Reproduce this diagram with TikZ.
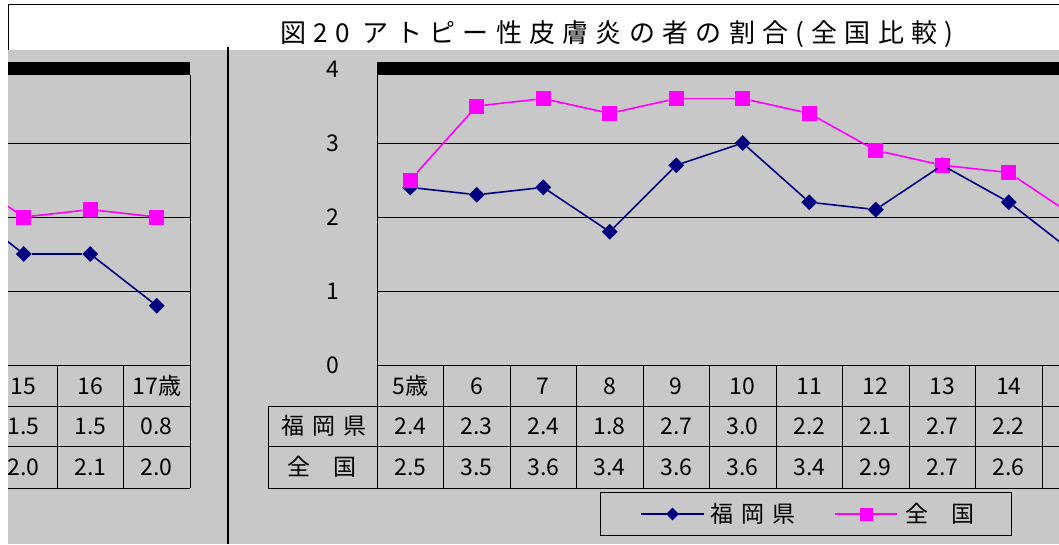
\documentclass[tikz,border=0pt]{standalone}
\usepackage{fontspec}
\setmainfont{Noto Sans CJK JP}
\newfontfamily\widefont[LetterSpace=36]{Noto Sans CJK JP}
\newfontfamily\titlefont[LetterSpace=28]{Noto Sans CJK JP}
\usetikzlibrary{positioning,shapes.geometric}
\definecolor{chartgray}{RGB}{200,200,200}
\definecolor{fkblue}{RGB}{0,0,128}
\definecolor{zkpink}{RGB}{255,0,255}
\begin{document}
\begin{tikzpicture}[x=1pt,y=-1pt,
  txt/.style={font=\fontsize{23}{24}\selectfont,inner sep=0pt},
  fkmark/.style={diamond,fill=fkblue,inner sep=0pt,minimum size=16pt},
  zkmark/.style={rectangle,fill=zkpink,inner sep=0pt,minimum size=15pt},
  fkline/.style={fkblue,line width=1.6pt},
  zkline/.style={zkpink,line width=1.6pt},
  rule/.style={black,line width=0.9pt}]

  \useasboundingbox (0,0) rectangle (1059,544);
  % background and frame
  \fill[white] (0,0) rectangle (1059,544);
  \fill[chartgray] (8,50) rectangle (1059,544);
  \draw[rule] (8,50) -- (8,4) -- (1059,4);
  \fill (8,62) rectangle (190,75);
  \fill (377,62) rectangle (1059,75);
  \draw[line width=2.5pt] (228,47) -- (228,544);

  \node[font=\fontsize{26}{28}\titlefont,inner sep=0pt] (title) at (617,34)
    {図20 アトピー性皮膚炎の者の割合(全国比較)};

  % y axis
  \foreach \v in {0,...,4}
    \node[txt] (ytick\v) at (333,365-74*\v) {\v};
  \foreach \v in {1,2,3} {
    \draw[rule] (8,365-74*\v) -- (190,365-74*\v);
    \draw[rule] (377,365-74*\v) -- (1059,365-74*\v);
  }

  % data table
  \draw[rule] (377,75) -- (377,488);
  \draw[rule] (190,75) -- (190,488);
  \draw[rule] (8,365) -- (190,365) (377,365) -- (1059,365);
  \foreach \y in {406,446,488}
    \draw[rule] (8,\y) -- (190,\y) (268,\y) -- (1059,\y);
  \draw[rule] (268,406) -- (268,488);
  \foreach \x in {57,123.5}
    \draw[rule] (\x,365) -- (\x,488);
  \foreach \k in {1,...,10}
    \draw[rule] (377+66.5*\k,365) -- (377+66.5*\k,488);

  \node[txt,font=\fontsize{23}{24}\widefont] (fkhead) at (324,426) {福岡県};
  \node[txt] (zkhead) at (322,467) {全　国};
  \foreach \a/\f/\z [count=\k from 0] in {5歳/2.4/2.5,6/2.3/3.5,7/2.4/3.6,
      8/1.8/3.4,9/2.7/3.6,10/3.0/3.6,11/2.2/3.4,12/2.1/2.9,13/2.7/2.7,14/2.2/2.6} {
    \node[txt] (hd\k) at (410.25+66.5*\k,386) {\a};
    \node[txt] (fk\k) at (410.25+66.5*\k,426) {\f};
    \node[txt] (zk\k) at (410.25+66.5*\k,467) {\z};
  }
  \foreach \a/\f/\z [count=\k from 0] in {15/1.5/2.0,16/1.5/2.1,17歳/0.8/2.0} {
    \node[txt] (lhd\k) at (23.75+66.5*\k,386) {\a};
    \node[txt] (lfk\k) at (23.75+66.5*\k,426) {\f};
    \node[txt] (lzk\k) at (23.75+66.5*\k,467) {\z};
  }

  % lines, right part
  \begin{scope}
    \clip (377,75) rectangle (1059,365);
    \foreach \f/\z [count=\k from 0] in {2.4/2.5,2.3/3.5,2.4/3.6,1.8/3.4,2.7/3.6,
        3.0/3.6,2.2/3.4,2.1/2.9,2.7/2.7,2.2/2.6,1.5/2.0} {
      \node[fkmark] (fm\k) at (410.25+66.5*\k,365-74*\f) {};
      \node[zkmark] (zm\k) at (410.25+66.5*\k,365-74*\z) {};
    }
    \foreach \k [evaluate=\k as \j using int(\k+1)] in {0,...,9}
      \draw[fkline] (fm\k) -- (fm\j);
    \foreach \k [evaluate=\k as \j using int(\k+1)] in {0,...,9}
      \draw[zkline] (zm\k) -- (zm\j);
  \end{scope}

  % lines, left part
  \begin{scope}
    \clip (8,75) rectangle (190,365);
    \foreach \f/\z [count=\k from 0] in {2.2/2.6,1.5/2.0,1.5/2.1,0.8/2.0} {
      \node[fkmark] (lfm\k) at (-42.75+66.5*\k,365-74*\f) {};
      \node[zkmark] (lzm\k) at (-42.75+66.5*\k,365-74*\z) {};
    }
    \foreach \k [evaluate=\k as \j using int(\k+1)] in {0,1,2} {
      \draw[fkline] (lfm\k) -- (lfm\j);
      \draw[zkline] (lzm\k) -- (lzm\j);
    }
  \end{scope}

  % legend
  \node[draw,rule,minimum width=411pt,minimum height=43pt] (legend) at (805.5,513.5) {};
  \coordinate (legfkw) at (641,514);
  \coordinate (legfke) at (704,514);
  \draw[fkblue,line width=1.3pt] (legfkw) -- (legfke);
  \node[fkmark,minimum size=13pt] (legfk) at (672.5,514) {};
  \node[txt,font=\fontsize{23}{24}\widefont,right=6pt of legfke] (legfktxt) {福岡県};
  \coordinate (legzkw) at (835,514);
  \coordinate (legzke) at (897,514);
  \draw[zkpink,line width=1.3pt] (legzkw) -- (legzke);
  \node[zkmark,minimum size=13pt] (legzk) at (866,514) {};
  \node[txt,right=8pt of legzke] (legzktxt) {全　国};
\end{tikzpicture}
\end{document}
